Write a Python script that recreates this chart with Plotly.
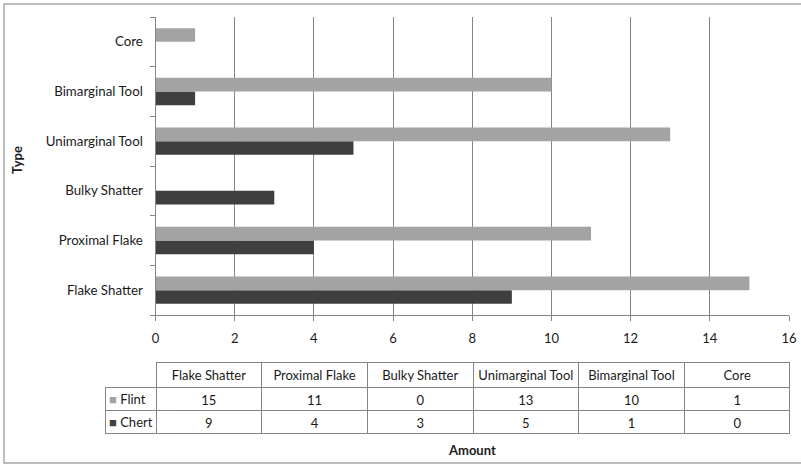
import plotly.graph_objects as go

# data
types = ["Flake Shatter", "Proximal Flake", "Bulky Shatter",
         "Unimarginal Tool", "Bimarginal Tool", "Core"]
flint = [15, 11, 0, 13, 10, 1]
chert = [9, 4, 3, 5, 1, 0]
x_ticks = [0, 2, 4, 6, 8, 10, 12, 14, 16]

W, H = 801, 464
FLINT_C = "#a3a3a3"
CHERT_C = "#3f3f3f"
LINE_C = "#858585"
TEXT_C = "#1a1a1a"
FONT = "Lato, Open Sans, sans-serif"
FS = 13


def fx(px):
    return px / W


def fy(px):
    return 1 - px / H


fig = go.Figure()

# chert first so flint sits above it inside each group
fig.add_trace(go.Bar(y=types, x=chert, orientation="h", name="Chert",
                     marker=dict(color=CHERT_C, line_width=0)))
fig.add_trace(go.Bar(y=types, x=flint, orientation="h", name="Flint",
                     marker=dict(color=FLINT_C, line_width=0)))

# data table under the chart (no-break spaces keep headers on one line)
fig.add_trace(go.Table(
    domain=dict(x=[fx(156), fx(790)], y=[fy(435), fy(362)]),
    columnwidth=[1] * len(types),
    header=dict(values=[t.replace(" ", "\u00a0") for t in types],
                height=25, align="center",
                fill_color="white", line=dict(color=LINE_C, width=1),
                font=dict(family=FONT, size=FS, color=TEXT_C)),
    cells=dict(values=[[f, c] for f, c in zip(flint, chert)], height=23,
               align="center", fill_color="white",
               line=dict(color=LINE_C, width=1),
               font=dict(family=FONT, size=FS, color=TEXT_C)),
))

# row-label cells (the legend keys are added as annotations below)
series_names = ["Flint", "Chert"]
series_colors = [FLINT_C, CHERT_C]
fig.add_trace(go.Table(
    domain=dict(x=[fx(105), fx(156.5)], y=[fy(435), fy(387)]),
    header=dict(values=[""], height=23, fill_color="white",
                line=dict(color=LINE_C, width=1)),
    cells=dict(values=[[""]], height=23, fill_color="white",
               line=dict(color=LINE_C, width=1)),
))

annotations = [
    dict(text="<b>Type</b>", textangle=-90, x=fx(17), y=fy(160),
         xref="paper", yref="paper", xanchor="center", yanchor="middle",
         showarrow=False, font=dict(size=FS, color=TEXT_C)),
    dict(text="<b>Amount</b>", x=fx(472), y=fy(450),
         xref="paper", yref="paper", xanchor="center", yanchor="middle",
         showarrow=False, font=dict(size=FS, color=TEXT_C)),
]
for i, (name, col) in enumerate(zip(series_names, series_colors)):
    annotations.append(dict(
        text=f"<span style='color:{col}'>■</span> {name}",
        x=fx(107), y=fy(398.5 + 23 * i), xref="paper", yref="paper",
        xanchor="left", yanchor="middle", showarrow=False,
        font=dict(size=FS, color=TEXT_C)))

fig.update_layout(
    width=W, height=H,
    margin=dict(l=0, r=0, t=0, b=0, autoexpand=False),
    paper_bgcolor="white", plot_bgcolor="white",
    barmode="group", bargap=0.45, bargroupgap=0,
    showlegend=False,
    font=dict(family=FONT, size=FS, color=TEXT_C),
    xaxis=dict(domain=[fx(155.5), fx(789)], range=[0, 16],
               tickvals=x_ticks, showgrid=True, gridcolor=LINE_C,
               gridwidth=1, zeroline=False, showline=True,
               linecolor=LINE_C, ticks="outside", ticklen=5,
               tickcolor=LINE_C, ticklabelstandoff=6, automargin=False,
               tickfont=dict(size=FS, color=TEXT_C)),
    yaxis=dict(domain=[fy(315), fy(17)], type="category",
               showgrid=False, zeroline=False, showline=True,
               linecolor=LINE_C, ticks="outside", ticklen=5,
               tickcolor=LINE_C, tickson="boundaries", automargin=False,
               ticklabelstandoff=9,
               tickfont=dict(size=13.3, color=TEXT_C)),
    annotations=annotations,
    shapes=[
        dict(type="rect", xref="paper", yref="paper",
             x0=fx(4), x1=1.02, y0=fy(463), y1=fy(4),
             line=dict(color="#a8a8a8", width=1.5), layer="below"),
    ],
)

# drop the browser's default 8px body margin so the figure sits at 0,0
fig.write_html("out.html", config={"displayModeBar": False},
               post_script="document.body.style.margin='0';")
